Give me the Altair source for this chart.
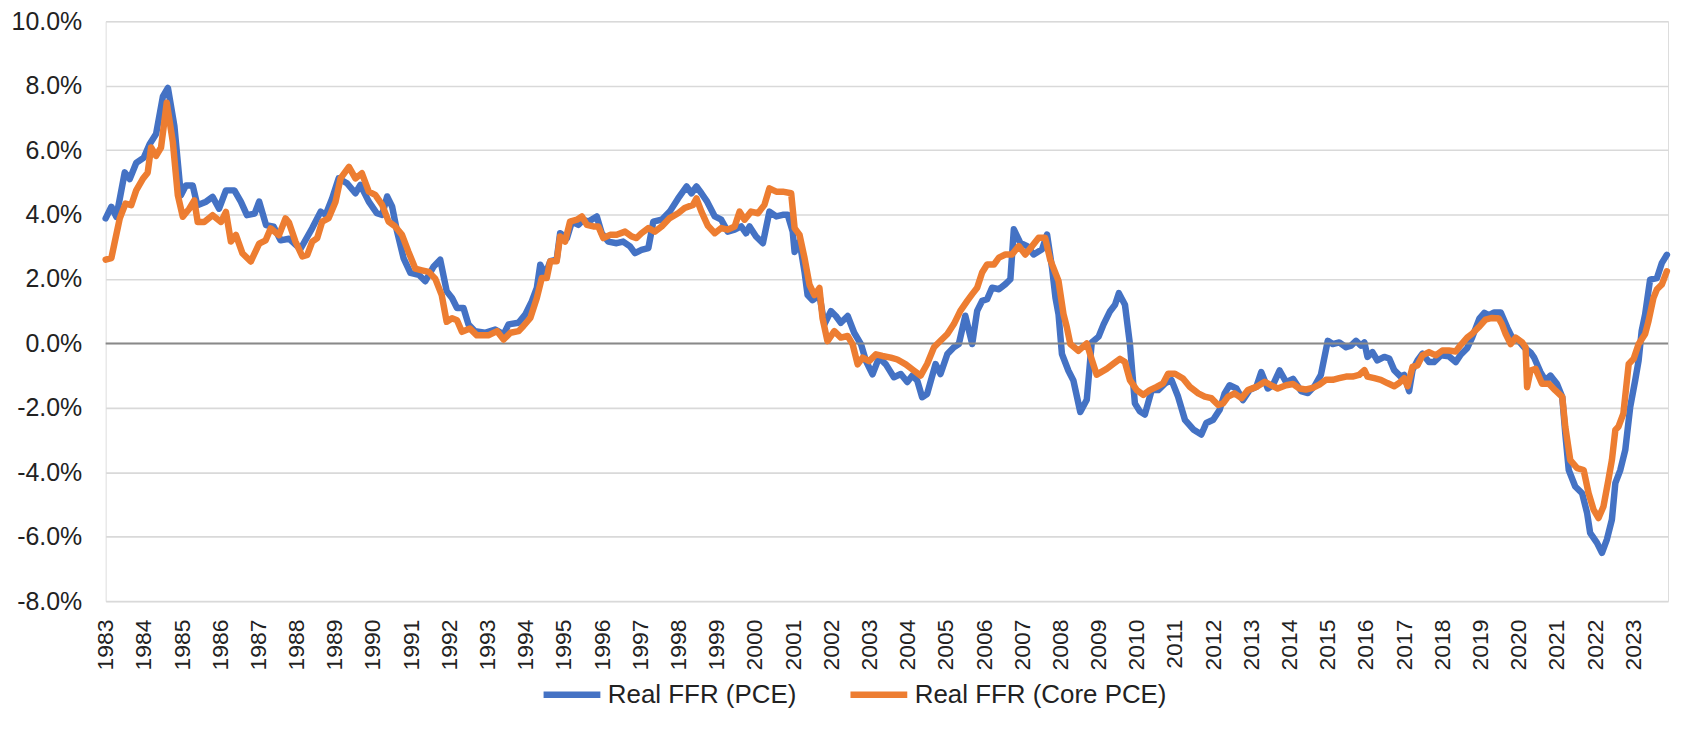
import altair as alt
import pandas as pd

# ---- data (decimal year, percent) ----
pce_t = [1983.00, 1983.15, 1983.28, 1983.50, 1983.63, 1983.80, 1984.00, 1984.15, 1984.32, 1984.50,
         1984.63, 1984.80, 1984.97, 1985.10, 1985.28, 1985.40, 1985.63, 1985.80, 1985.97, 1986.15,
         1986.37, 1986.54, 1986.70, 1986.90, 1987.02, 1987.20, 1987.40, 1987.58, 1987.80, 1988.10,
         1988.41, 1988.63, 1988.76, 1988.93, 1989.10, 1989.32, 1989.54, 1989.67, 1989.89, 1990.10,
         1990.24, 1990.37, 1990.50, 1990.63, 1990.80, 1990.98, 1991.20, 1991.37, 1991.59, 1991.76,
         1991.93, 1992.07, 1992.20, 1992.37, 1992.50, 1992.67, 1992.93, 1993.20, 1993.42, 1993.55,
         1993.81, 1993.99, 1994.16, 1994.29, 1994.38, 1994.51, 1994.64, 1994.81, 1994.90, 1995.08,
         1995.21, 1995.38, 1995.51, 1995.64, 1995.86, 1995.99, 1996.16, 1996.38, 1996.55, 1996.73,
         1996.86, 1997.03, 1997.21, 1997.34, 1997.56, 1997.77, 1997.99, 1998.21, 1998.34, 1998.47,
         1998.60, 1998.75, 1998.95, 1999.12, 1999.29, 1999.47, 1999.64, 1999.77, 1999.86, 2000.03,
         2000.21, 2000.38, 2000.56, 2000.73, 2000.86, 2000.99, 2001.04, 2001.17, 2001.30, 2001.38,
         2001.51, 2001.69, 2001.82, 2001.99, 2002.12, 2002.25, 2002.43, 2002.60, 2002.78, 2002.91,
         2003.08, 2003.25, 2003.43, 2003.64, 2003.82, 2003.99, 2004.12, 2004.25, 2004.38, 2004.51,
         2004.73, 2004.86, 2005.04, 2005.21, 2005.34, 2005.51, 2005.69, 2005.82, 2005.95, 2006.08,
         2006.21, 2006.39, 2006.56, 2006.69, 2006.78, 2006.95, 2007.13, 2007.30, 2007.52, 2007.65,
         2007.78, 2007.87, 2007.95, 2008.04, 2008.21, 2008.34, 2008.52, 2008.69, 2008.82, 2009.00,
         2009.13, 2009.30, 2009.43, 2009.53, 2009.69, 2009.82, 2009.95, 2010.08, 2010.21, 2010.39,
         2010.56, 2010.74, 2010.91, 2011.08, 2011.26, 2011.48, 2011.69, 2011.82, 2012.00, 2012.17,
         2012.30, 2012.43, 2012.61, 2012.78, 2012.95, 2013.13, 2013.26, 2013.43, 2013.56, 2013.74,
         2013.91, 2014.09, 2014.30, 2014.48, 2014.65, 2014.82, 2015.00, 2015.13, 2015.30, 2015.48,
         2015.61, 2015.74, 2015.87, 2015.96, 2016.04, 2016.17, 2016.30, 2016.48, 2016.61, 2016.74,
         2016.91, 2017.00, 2017.13, 2017.22, 2017.35, 2017.48, 2017.65, 2017.78, 2017.96, 2018.17,
         2018.35, 2018.48, 2018.65, 2018.78, 2018.97, 2019.10, 2019.22, 2019.35, 2019.53, 2019.70,
         2019.83, 2019.96, 2020.14, 2020.31, 2020.40, 2020.57, 2020.70, 2020.83, 2021.00, 2021.14,
         2021.22, 2021.31, 2021.48, 2021.66, 2021.79, 2021.87, 2022.05, 2022.18, 2022.31, 2022.44,
         2022.53, 2022.66, 2022.79, 2022.92, 2023.05, 2023.14, 2023.22, 2023.31, 2023.44, 2023.62,
         2023.75, 2023.88]
pce_v = [3.88, 4.24, 3.93, 5.31, 5.10, 5.60, 5.77, 6.18, 6.50, 7.67,
         7.93, 6.75, 4.60, 4.90, 4.90, 4.29, 4.40, 4.55, 4.18, 4.75,
         4.75, 4.40, 3.98, 4.03, 4.40, 3.67, 3.62, 3.20, 3.25, 2.93,
         3.58, 4.09, 3.99, 4.50, 5.12, 4.97, 4.66, 4.92, 4.40, 4.04,
         3.99, 4.56, 4.25, 3.48, 2.65, 2.19, 2.13, 1.93, 2.39, 2.60,
         1.62, 1.41, 1.10, 1.10, 0.59, 0.38, 0.33, 0.43, 0.28, 0.59,
         0.64, 0.90, 1.31, 1.72, 2.44, 2.13, 2.55, 2.60, 3.42, 3.27,
         3.78, 3.68, 3.84, 3.78, 3.94, 3.42, 3.16, 3.11, 3.16, 3.01,
         2.80, 2.90, 2.96, 3.78, 3.84, 4.09, 4.50, 4.87, 4.66, 4.87,
         4.66, 4.40, 3.94, 3.84, 3.47, 3.53, 3.63, 3.42, 3.63, 3.32,
         3.11, 4.09, 3.94, 3.99, 3.99, 3.47, 2.84, 3.16, 2.22, 1.50,
         1.34, 1.50, 0.59, 1.00, 0.85, 0.64, 0.85, 0.33, -0.03, -0.55,
         -0.96, -0.44, -0.65, -1.05, -0.95, -1.20, -1.00, -1.15, -1.67, -1.57,
         -0.64, -0.95, -0.33, -0.12, -0.02, 0.86, -0.02, 1.01, 1.32, 1.37,
         1.73, 1.68, 1.84, 1.99, 3.54, 3.12, 3.02, 2.76, 2.92, 3.38,
         2.35, 1.42, 0.91, -0.33, -0.85, -1.15, -2.13, -1.75, 0.03, 0.21,
         0.59, 1.00, 1.20, 1.56, 1.20, -0.02, -1.86, -2.11, -2.21, -1.45,
         -1.45, -1.24, -1.14, -1.65, -2.37, -2.67, -2.83, -2.47, -2.37, -2.06,
         -1.55, -1.30, -1.40, -1.76, -1.45, -1.35, -0.89, -1.40, -1.30, -0.84,
         -1.20, -1.10, -1.48, -1.54, -1.33, -0.98, 0.08, -0.02, 0.03, -0.12,
         -0.07, 0.08, -0.07, 0.03, -0.42, -0.27, -0.53, -0.42, -0.47, -0.83,
         -1.03, -0.98, -1.48, -0.83, -0.53, -0.32, -0.58, -0.58, -0.37, -0.40,
         -0.58, -0.35, -0.15, 0.18, 0.77, 0.95, 0.87, 0.96, 0.96, 0.49,
         0.18, 0.13, -0.12, -0.28, -0.43, -0.89, -1.15, -1.00, -1.25, -1.66,
         -2.80, -3.93, -4.44, -4.65, -5.26, -5.88, -6.19, -6.50, -6.08, -5.47,
         -4.34, -3.93, -3.31, -1.97, -1.15, -0.53, 0.39, 0.90, 1.98, 2.03,
         2.50, 2.75]

core_t = [1983.00, 1983.15, 1983.23, 1983.37, 1983.52, 1983.67, 1983.80, 1983.97, 1984.10, 1984.19,
          1984.32, 1984.45, 1984.60, 1984.76, 1984.89, 1985.02, 1985.19, 1985.32, 1985.41, 1985.58,
          1985.80, 1986.02, 1986.15, 1986.28, 1986.41, 1986.58, 1986.80, 1987.02, 1987.19, 1987.32,
          1987.54, 1987.71, 1987.80, 1987.97, 1988.15, 1988.28, 1988.41, 1988.54, 1988.67, 1988.84,
          1989.02, 1989.15, 1989.37, 1989.54, 1989.71, 1989.89, 1990.06, 1990.24, 1990.41, 1990.58,
          1990.76, 1990.93, 1991.11, 1991.28, 1991.46, 1991.63, 1991.80, 1991.93, 1992.07, 1992.20,
          1992.33, 1992.54, 1992.72, 1993.02, 1993.25, 1993.42, 1993.60, 1993.81, 1993.94, 1994.12,
          1994.29, 1994.42, 1994.55, 1994.64, 1994.81, 1994.90, 1995.03, 1995.16, 1995.34, 1995.47,
          1995.60, 1995.77, 1995.90, 1996.03, 1996.21, 1996.38, 1996.60, 1996.77, 1996.90, 1997.03,
          1997.21, 1997.38, 1997.56, 1997.77, 1997.99, 1998.16, 1998.38, 1998.47, 1998.60, 1998.77,
          1998.95, 1999.12, 1999.29, 1999.47, 1999.60, 1999.73, 1999.90, 2000.08, 2000.25, 2000.38,
          2000.56, 2000.73, 2000.95, 2001.04, 2001.17, 2001.30, 2001.43, 2001.56, 2001.69, 2001.77,
          2001.90, 2002.08, 2002.25, 2002.43, 2002.56, 2002.69, 2002.82, 2002.99, 2003.17, 2003.34,
          2003.56, 2003.73, 2003.95, 2004.17, 2004.34, 2004.51, 2004.69, 2004.86, 2005.04, 2005.21,
          2005.38, 2005.56, 2005.69, 2005.82, 2005.95, 2006.08, 2006.26, 2006.39, 2006.56, 2006.73,
          2006.91, 2007.08, 2007.26, 2007.43, 2007.60, 2007.73, 2007.95, 2008.08, 2008.17, 2008.26,
          2008.47, 2008.69, 2008.82, 2008.95, 2009.21, 2009.39, 2009.56, 2009.69, 2009.82, 2010.00,
          2010.17, 2010.34, 2010.52, 2010.69, 2010.82, 2011.00, 2011.21, 2011.39, 2011.61, 2011.78,
          2011.95, 2012.13, 2012.26, 2012.39, 2012.56, 2012.74, 2012.91, 2013.13, 2013.35, 2013.52,
          2013.69, 2013.91, 2014.09, 2014.26, 2014.43, 2014.61, 2014.78, 2014.95, 2015.13, 2015.30,
          2015.48, 2015.65, 2015.82, 2015.96, 2016.04, 2016.22, 2016.39, 2016.56, 2016.74, 2016.87,
          2017.00, 2017.09, 2017.22, 2017.35, 2017.48, 2017.65, 2017.83, 2018.00, 2018.17, 2018.35,
          2018.48, 2018.65, 2018.78, 2018.95, 2019.13, 2019.30, 2019.48, 2019.56, 2019.66, 2019.79,
          2019.92, 2020.09, 2020.18, 2020.22, 2020.31, 2020.44, 2020.61, 2020.79, 2020.96, 2021.14,
          2021.22, 2021.35, 2021.53, 2021.70, 2021.83, 2021.96, 2022.09, 2022.22, 2022.35, 2022.44,
          2022.53, 2022.61, 2022.74, 2022.88, 2023.01, 2023.14, 2023.31, 2023.40, 2023.53, 2023.62,
          2023.75, 2023.88]
core_v = [2.60, 2.65, 3.10, 3.88, 4.34, 4.29, 4.75, 5.10, 5.30, 6.08,
          5.82, 6.08, 7.47, 6.24, 4.60, 3.93, 4.18, 4.44, 3.77, 3.77,
          3.98, 3.77, 4.08, 3.16, 3.37, 2.80, 2.54, 3.10, 3.20, 3.57,
          3.36, 3.88, 3.75, 3.16, 2.70, 2.75, 3.16, 3.27, 3.78, 3.89,
          4.40, 5.12, 5.48, 5.12, 5.28, 4.71, 4.61, 4.30, 3.78, 3.63,
          3.37, 2.84, 2.32, 2.27, 2.22, 2.01, 1.50, 0.67, 0.78, 0.72,
          0.36, 0.46, 0.25, 0.25, 0.38, 0.12, 0.33, 0.38, 0.54, 0.79,
          1.41, 2.03, 2.03, 2.55, 2.55, 3.32, 3.16, 3.78, 3.84, 3.94,
          3.68, 3.63, 3.63, 3.27, 3.37, 3.37, 3.47, 3.32, 3.27, 3.42,
          3.58, 3.47, 3.63, 3.89, 4.04, 4.20, 4.30, 4.50, 4.09, 3.65,
          3.42, 3.58, 3.53, 3.63, 4.09, 3.84, 4.09, 4.04, 4.30, 4.81,
          4.71, 4.71, 4.66, 3.58, 3.37, 2.65, 1.82, 1.50, 1.72, 0.79,
          0.07, 0.38, 0.18, 0.23, -0.03, -0.65, -0.44, -0.55, -0.34, -0.39,
          -0.44, -0.50, -0.65, -0.85, -1.00, -0.64, -0.12, 0.08, 0.29, 0.60,
          1.01, 1.32, 1.53, 1.73, 2.20, 2.45, 2.45, 2.66, 2.76, 2.76,
          3.02, 2.76, 3.02, 3.28, 3.28, 2.61, 1.94, 0.91, 0.49, -0.02,
          -0.23, 0.00, -0.50, -0.97, -0.79, -0.63, -0.48, -0.58, -1.14, -1.45,
          -1.60, -1.45, -1.35, -1.24, -0.94, -0.94, -1.09, -1.35, -1.55, -1.65,
          -1.70, -1.91, -1.86, -1.65, -1.55, -1.70, -1.45, -1.35, -1.19, -1.30,
          -1.40, -1.30, -1.26, -1.40, -1.43, -1.38, -1.28, -1.13, -1.13, -1.08,
          -1.03, -1.03, -0.98, -0.83, -1.03, -1.08, -1.13, -1.23, -1.33, -1.23,
          -1.08, -1.33, -0.73, -0.68, -0.37, -0.27, -0.37, -0.22, -0.22, -0.25,
          -0.05, 0.18, 0.30, 0.50, 0.74, 0.79, 0.77, 0.60, 0.29, -0.02,
          0.18, 0.03, -0.12, -1.36, -0.84, -0.79, -1.25, -1.25, -1.46, -1.66,
          -2.59, -3.62, -3.87, -3.93, -4.65, -5.16, -5.42, -5.06, -4.23, -3.62,
          -2.69, -2.59, -2.18, -0.64, -0.48, -0.02, 0.29, 0.70, 1.42, 1.68,
          1.83, 2.24]

series_names = ["Real FFR (PCE)", "Real FFR (Core PCE)"]
series_colors = ["#4472C4", "#ED7D31"]
year_ticks = list(range(1983, 2024))
y_ticks = [-8, -6, -4, -2, 0, 2, 4, 6, 8, 10]

df = pd.concat([
    pd.DataFrame({"t": pce_t, "v": pce_v, "series": series_names[0], "ord": 0}),
    pd.DataFrame({"t": core_t, "v": core_v, "series": series_names[1], "ord": 1}),
], ignore_index=True)

FONT = "Liberation Sans"
TXT = "#222222"

x_enc = alt.X("t:Q",
              scale=alt.Scale(domain=[1983, 2023.91], nice=False, zero=False),
              axis=alt.Axis(values=year_ticks, format="d", labelAngle=270,
                            labelAlign="right", labelBaseline="middle",
                            labelPadding=18, ticks=False, domain=False, grid=False,
                            labelFlush=False, labelOverlap=False, labelBound=False,
                            labelFont=FONT, labelFontSize=23, labelColor=TXT,
                            title=None))
y_enc = alt.Y("v:Q",
              scale=alt.Scale(domain=[-8, 10], nice=False, zero=False),
              axis=alt.Axis(values=y_ticks,
                            labelExpr="(datum.value < 0 ? '-' : '') + format(abs(datum.value), '.1f') + '%'",
                            labelPadding=24, ticks=False, domain=False,
                            grid=True, gridColor="#D9D9D9", gridWidth=1.6,
                            labelFont=FONT, labelFontSize=25, labelColor=TXT,
                            title=None))
color_enc = alt.Color("series:N",
                      scale=alt.Scale(domain=series_names, range=series_colors),
                      legend=alt.Legend(title=None, orient="none", direction="horizontal",
                                        legendX=436, legendY=644,
                                        symbolType="stroke", symbolSize=3249,
                                        symbolStrokeWidth=6.5, labelOffset=4,
                                        columnPadding=40, padding=0, labelLimit=0,
                                        labelFont=FONT, labelFontSize=26,
                                        labelColor=TXT))

zero = alt.Chart(pd.DataFrame({"z": [0]})).mark_rule(color="#898989", strokeWidth=2).encode(
    y=alt.Y("z:Q", scale=alt.Scale(domain=[-8, 10], nice=False, zero=False)))

base = alt.Chart(df)
blue = base.transform_filter(alt.datum.ord == 0).mark_line(strokeWidth=6.5, strokeJoin="round", strokeCap="round").encode(
    x=x_enc, y=y_enc, color=color_enc, order="t:Q")
orange = base.transform_filter(alt.datum.ord == 1).mark_line(strokeWidth=6.5, strokeJoin="round", strokeCap="round").encode(
    x=x_enc, y=y_enc, color=color_enc, order="t:Q")

chart = alt.layer(blue, zero, orange).properties(
    width=1568, height=582,
    autosize=alt.AutoSizeParams(type="none"),
    padding={"left": 98, "top": 12, "right": 9, "bottom": 115},
).configure_view(stroke=None).configure(background="white")

chart.save("out.html", embed_options={"renderer": "svg", "actions": False})
